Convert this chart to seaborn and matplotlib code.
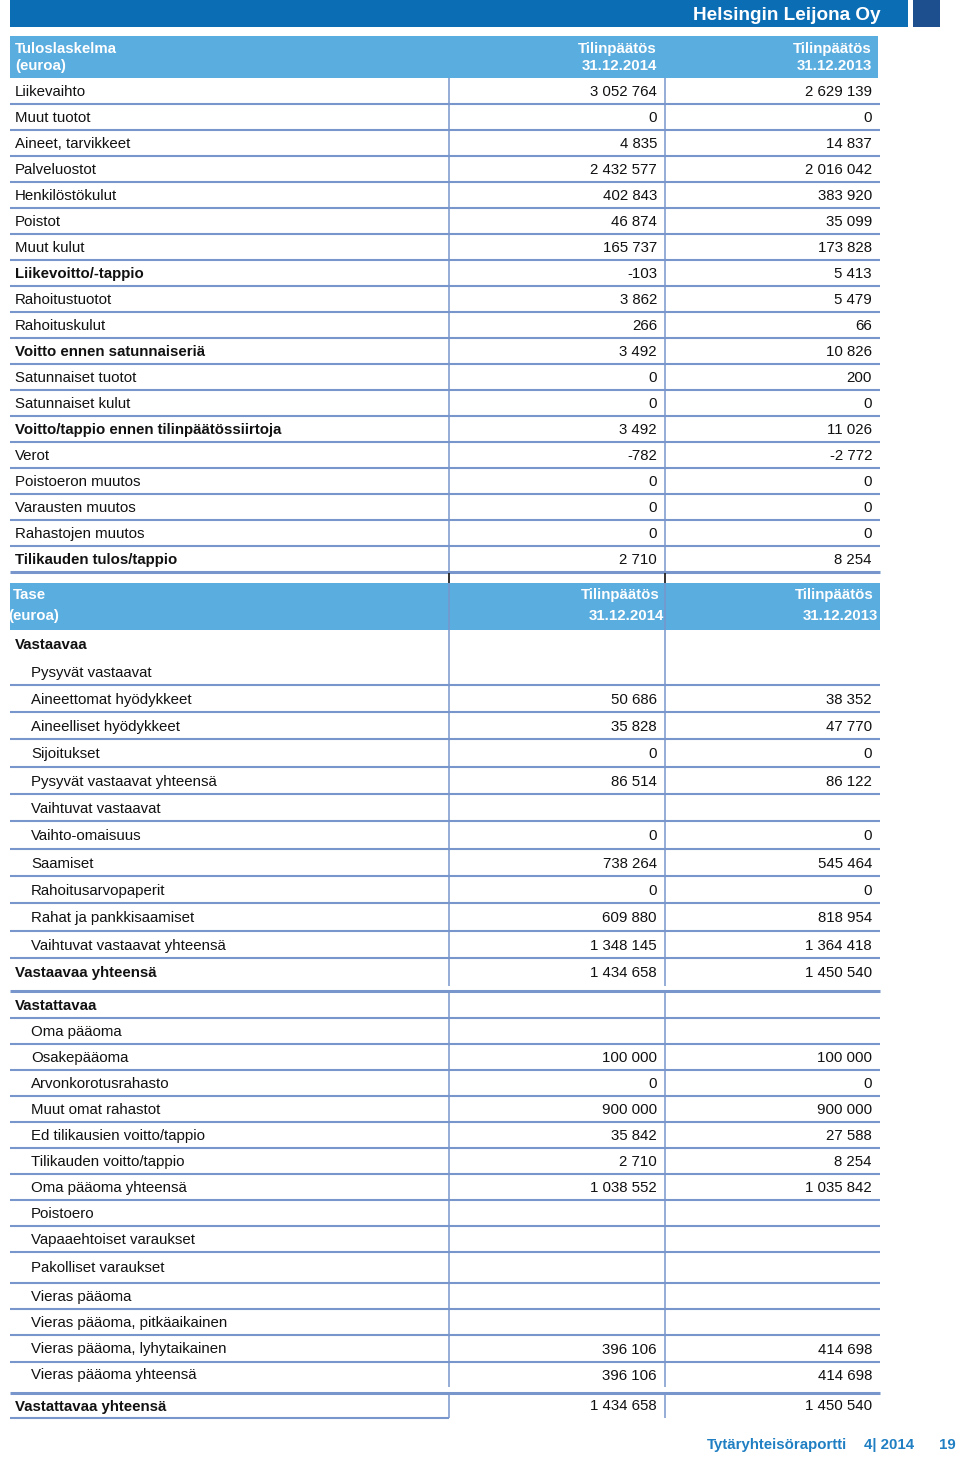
import numpy as np
import pandas as pd
import matplotlib.pyplot as plt
import seaborn as sns

# Report data
company = "Helsingin Leijona Oy"
footer_title = "Tytäryhteisöraportti"
footer_issue = "4| 2014"
footer_page = "19"
col_titles = ["Tilinpäätös", "Tilinpäätös"]
col_dates = ["31.12.2014", "31.12.2013"]

income_items = [
    "Liikevaihto", "Muut tuotot", "Aineet, tarvikkeet", "Palveluostot",
    "Henkilöstökulut", "Poistot", "Muut kulut", "Liikevoitto/-tappio",
    "Rahoitustuotot", "Rahoituskulut", "Voitto ennen satunnaiseriä",
    "Satunnaiset tuotot", "Satunnaiset kulut",
    "Voitto/tappio ennen tilinpäätössiirtoja", "Verot", "Poistoeron muutos",
    "Varausten muutos", "Rahastojen muutos", "Tilikauden tulos/tappio",
]
income_2014 = [3052764, 0, 4835, 2432577, 402843, 46874, 165737, -103, 3862, 266,
               3492, 0, 0, 3492, -782, 0, 0, 0, 2710]
income_2013 = [2629139, 0, 14837, 2016042, 383920, 35099, 173828, 5413, 5479, 66,
               10826, 200, 0, 11026, -2772, 0, 0, 0, 8254]
income_bold = ["Liikevoitto/-tappio", "Voitto ennen satunnaiseriä",
               "Voitto/tappio ennen tilinpäätössiirtoja", "Tilikauden tulos/tappio"]

assets_items = [
    "Vastaavaa", "Pysyvät vastaavat", "Aineettomat hyödykkeet",
    "Aineelliset hyödykkeet", "Sijoitukset", "Pysyvät vastaavat yhteensä",
    "Vaihtuvat vastaavat", "Vaihto-omaisuus", "Saamiset", "Rahoitusarvopaperit",
    "Rahat ja pankkisaamiset", "Vaihtuvat vastaavat yhteensä", "Vastaavaa yhteensä",
]
assets_2014 = [None, None, 50686, 35828, 0, 86514, None, 0, 738264, 0, 609880,
               1348145, 1434658]
assets_2013 = [None, None, 38352, 47770, 0, 86122, None, 0, 545464, 0, 818954,
               1364418, 1450540]

liab_items = [
    "Vastattavaa", "Oma pääoma", "Osakepääoma", "Arvonkorotusrahasto",
    "Muut omat rahastot", "Ed tilikausien voitto/tappio",
    "Tilikauden voitto/tappio", "Oma pääoma yhteensä", "Poistoero",
    "Vapaaehtoiset varaukset", "Pakolliset varaukset", "Vieras pääoma",
    "Vieras pääoma, pitkäaikainen", "Vieras pääoma, lyhytaikainen",
    "Vieras pääoma yhteensä", "Vastattavaa yhteensä",
]
liab_2014 = [None, None, 100000, 0, 900000, 35842, 2710, 1038552, None, None, None,
             None, None, 396106, 396106, 1434658]
liab_2013 = [None, None, 100000, 0, 900000, 27588, 8254, 1035842, None, None, None,
             None, None, 414698, 414698, 1450540]
balance_bold = ["Vastaavaa", "Vastaavaa yhteensä", "Vastattavaa", "Vastattavaa yhteensä"]

# Style
sns.set_theme(style="white")
plt.rcParams['font.family'] = ['Liberation Sans', 'DejaVu Sans']

BANNER = '#0b6db4'
SQUARE = '#1d4f8f'
HEAD = '#5aaddf'
LINE = '#7896cc'
FOOT = '#1f7fc2'
FS = 10.8
DY = 1  # nudge text down a pixel

def fmt(v):
    if v is None:
        return ""
    return f"{v:,}".replace(",", " ")

fig = plt.figure(figsize=(9.6, 14.58), dpi=100)
ax = fig.add_axes([0, 0, 1, 1])
ax.set_xlim(0, 960)
ax.set_ylim(1458, 0)
ax.axis('off')

X0, X1, XC1, XC2 = 10, 880, 449, 665

# Banner
ax.fill_between([10, 908], 0, 27, color=BANNER, lw=0)
ax.fill_between([913, 940], 0, 27, color=SQUARE, lw=0)
ax.text(881, 14 + DY, company, color='white', fontsize=13.7, fontweight='bold',
        ha='right', va='center')

def hline(y, x0=X0, x1=X1, lw=1.5):
    ax.plot([x0, x1], [y, y], color=LINE, lw=lw, solid_capstyle='butt')

def vlines(y0, y1, lw=1.1, color=LINE):
    for x in (XC1, XC2):
        ax.plot([x, x], [y0, y1], color=color, lw=lw, solid_capstyle='butt')

def row(label, v1, v2, yc, bold, indent):
    w = 'bold' if bold else 'normal'
    yc = yc + DY
    ax.text(31 if indent else 15, yc, label, fontsize=FS, fontweight=w,
            ha='left', va='center', color='#111111')
    ax.text(657, yc, fmt(v1), fontsize=FS, ha='right', va='center', color='#111111')
    ax.text(872, yc, fmt(v2), fontsize=FS, ha='right', va='center', color='#111111')

def head_text(x, y, s, ha='left'):
    ax.text(x, y + DY, s, color='white', fontsize=FS, fontweight='bold',
            ha=ha, va='center')

# Income statement
ax.fill_between([X0, 878], 36, 78, color=HEAD, lw=0)
head_text(15, 48, "Tuloslaskelma")
head_text(15, 65, "(euroa)")
for xr, t, d in zip((657, 872), col_titles, col_dates):
    head_text(xr, 48, t, 'right')
    head_text(xr, 65, d, 'right')

inc_edges = 78 + 26 * np.arange(len(income_items) + 1)
vlines(inc_edges[0], inc_edges[-1])
for y in inc_edges[1:-1]:
    hline(y)
hline(inc_edges[-1], lw=2.2)
for i, lab in enumerate(income_items):
    yc = (inc_edges[i] + inc_edges[i + 1]) / 2
    row(lab, income_2014[i], income_2013[i], yc, lab in income_bold, False)

# Balance sheet header
vlines(573, 583, lw=1.3, color='#222222')
ax.fill_between([X0, X1], 583, 630, color=HEAD, lw=0)
vlines(583, 630)
head_text(13, 594, "Tase")
head_text(8, 615, "(euroa)")
for xr, t, d in zip((660, 874), col_titles, col_dates):
    head_text(xr, 594, t, 'right')
    head_text(xr + 4, 615, d, 'right')

# Assets
ast_edges = [630, 658, 685, 712, 739, 767, 794, 821, 849, 876, 903, 931, 958, 986]
vlines(630, 986)
for y in ast_edges[2:-1]:
    hline(y)
for i, lab in enumerate(assets_items):
    yc = (ast_edges[i] + ast_edges[i + 1]) / 2
    row(lab, assets_2014[i], assets_2013[i], yc, lab in balance_bold,
        lab not in balance_bold)

# Liabilities
liab_edges = [991, 1018, 1044, 1070, 1096, 1122, 1148, 1174, 1200, 1226, 1252,
              1283, 1309, 1335, 1362, 1387, 1393, 1418]
vlines(991, 1387)
hline(991, lw=2.2)
for y in liab_edges[1:-3]:
    hline(y)
hline(1393, lw=2.2)
hline(1418, x1=XC1, lw=1.5)
vlines(1393, 1418)
for i, lab in enumerate(liab_items):
    if i < len(liab_items) - 1:
        yc = (liab_edges[i] + liab_edges[i + 1]) / 2
    else:
        yc = (liab_edges[-2] + liab_edges[-1]) / 2
    row(lab, liab_2014[i], liab_2013[i], yc, lab in balance_bold,
        lab not in balance_bold)

# Footer
ax.text(707, 1444 + DY, footer_title, color=FOOT, fontsize=FS, fontweight='bold', va='center')
ax.text(864, 1444 + DY, footer_issue, color=FOOT, fontsize=FS, fontweight='bold', va='center')
ax.text(956, 1444 + DY, footer_page, color=FOOT, fontsize=FS, fontweight='bold',
        ha='right', va='center')

fig.savefig('out.png', dpi=100)
